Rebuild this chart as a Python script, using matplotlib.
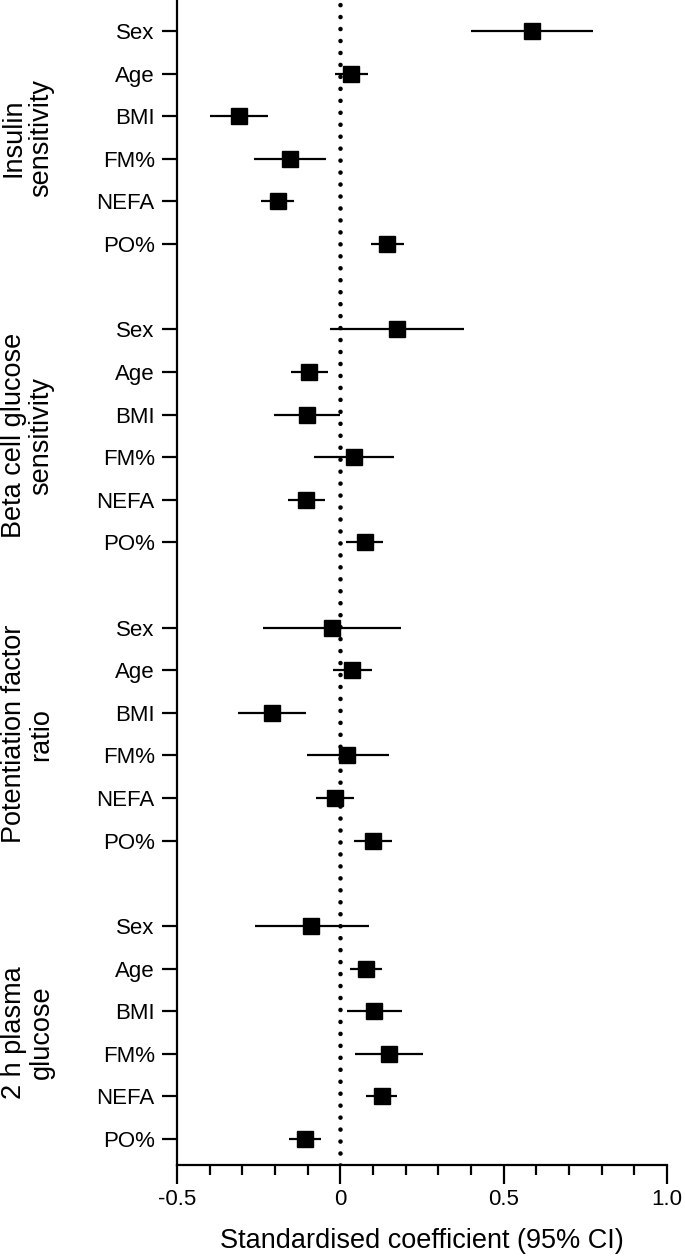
import matplotlib
matplotlib.use("Agg")
import matplotlib.pyplot as plt
import matplotlib.transforms as mtransforms
from matplotlib.ticker import MultipleLocator

plt.rcParams["font.family"] = ["Liberation Sans", "DejaVu Sans"]

groups = ["Insulin\nsensitivity", "Beta cell glucose\nsensitivity",
          "Potentiation factor\nratio", "2 h plasma\nglucose"]
predictors = ["Sex", "Age", "BMI", "FM%", "NEFA", "PO%"]

# standardised coefficients and 95% CI, one list per outcome
insulin_est = [0.586, 0.032, -0.310, -0.153, -0.190, 0.144]
insulin_lo = [0.400, -0.017, -0.400, -0.263, -0.242, 0.094]
insulin_hi = [0.773, 0.085, -0.220, -0.045, -0.141, 0.194]

beta_est = [0.173, -0.097, -0.101, 0.041, -0.105, 0.076]
beta_lo = [-0.033, -0.152, -0.202, -0.082, -0.160, 0.017]
beta_hi = [0.380, -0.038, -0.002, 0.163, -0.048, 0.130]

potent_est = [-0.026, 0.037, -0.209, 0.021, -0.015, 0.099]
potent_lo = [-0.237, -0.022, -0.312, -0.101, -0.074, 0.043]
potent_hi = [0.186, 0.096, -0.105, 0.149, 0.042, 0.157]

glucose_est = [-0.089, 0.080, 0.103, 0.149, 0.127, -0.108]
glucose_lo = [-0.262, 0.031, 0.020, 0.046, 0.080, -0.156]
glucose_hi = [0.087, 0.128, 0.188, 0.253, 0.174, -0.060]

series = [
    (insulin_est, insulin_lo, insulin_hi),
    (beta_est, beta_lo, beta_hi),
    (potent_est, potent_lo, potent_hi),
    (glucose_est, glucose_lo, glucose_hi),
]

fig = plt.figure(figsize=(6.85, 12.58), dpi=100)
ax = fig.add_axes([177 / 685, 1 - 1165 / 1258, 490 / 685, 1165 / 1258])

step = len(predictors) + 1
yticks = []
ylabels = []
for g, (est, lo, hi) in enumerate(series):
    ys = [g * step + i for i in range(len(predictors))]
    ax.hlines(ys, lo, hi, color="black", lw=1.6, zorder=2)
    ax.plot(est, ys, ls="none", marker="s", ms=12, color="black", zorder=3)
    yticks += ys
    ylabels += predictors

ax.axvline(0, color="black", lw=3.3, ls=(0, (0.01, 2.6)),
           dash_capstyle="round", zorder=1)

ax.set_xlim(-0.5, 1.0)
ax.set_ylim(26.61, -0.727)
ax.set_yticks(yticks)
ax.set_yticklabels(ylabels, fontsize=16)
ax.xaxis.set_minor_locator(MultipleLocator(0.1))
ax.set_xticks([-0.5, 0, 0.5, 1.0])
ax.set_xticklabels(["-0.5", "0", "0.5", "1.0"], fontsize=16)

ax.spines["top"].set_visible(False)
ax.spines["right"].set_visible(False)
ax.spines["left"].set_linewidth(1.6)
ax.spines["bottom"].set_linewidth(1.6)
ax.tick_params(axis="y", length=11, width=1.6, pad=5)
ax.tick_params(axis="x", which="major", length=14, width=1.6, pad=3)
ax.tick_params(axis="x", which="minor", length=7, width=1.6)

ax.set_xlabel("Standardised coefficient (95% CI)", fontsize=19.5, labelpad=13)

trans = mtransforms.blended_transform_factory(ax.transAxes, ax.transData)
for g, name in enumerate(groups):
    yc = g * step + (len(predictors) - 1) / 2
    ax.text(-0.305, yc, name, transform=trans, rotation=90, ha="center",
            va="center", fontsize=19.5, multialignment="center",
            linespacing=1.1)

fig.savefig("out.png", dpi=100)
